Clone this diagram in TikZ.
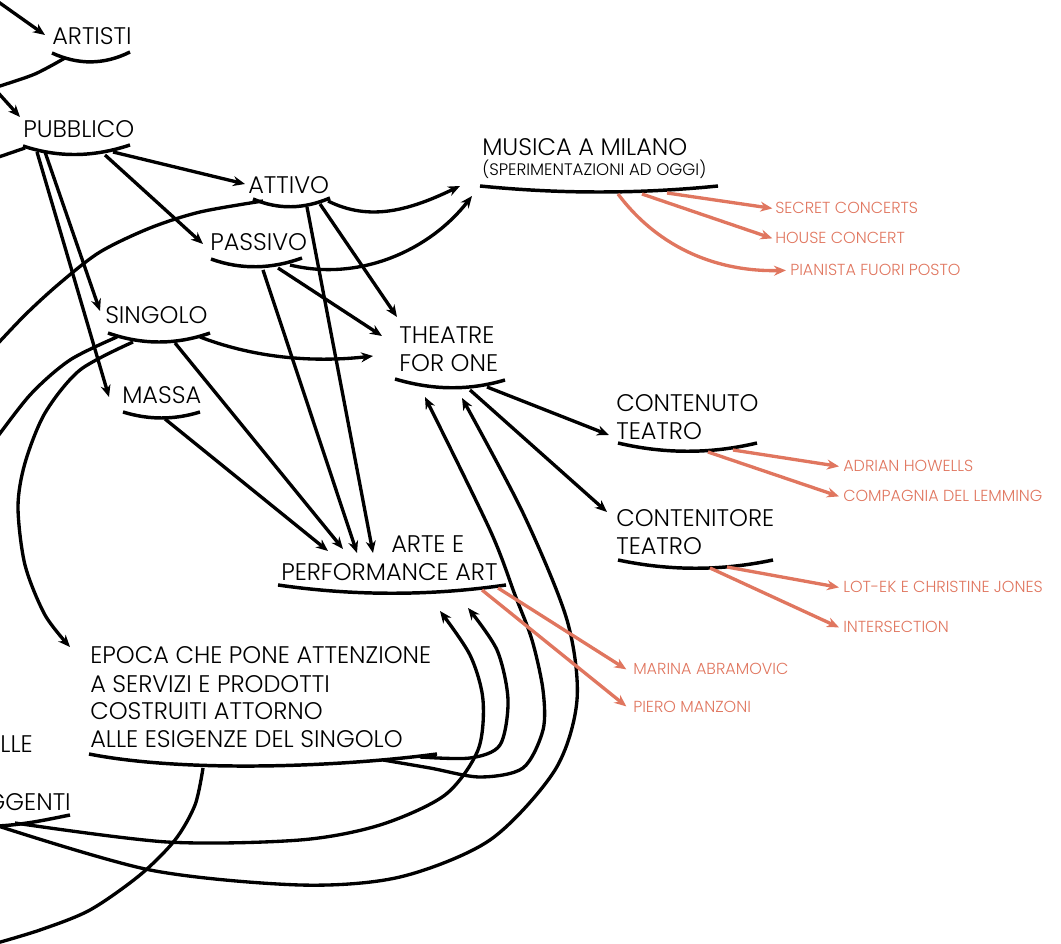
\documentclass[tikz,border=0pt]{standalone}
\usepackage{fontspec}
\setmainfont{Poppins Light}
\usepackage{xcolor}
\usetikzlibrary{
	arrows.meta,
	positioning,
	calc
}
\definecolor{salmon}{RGB}{224,118,95}

\begin{document}
\begin{tikzpicture}[x=0.75pt,y=-0.75pt,
	lab/.style={anchor=base west,inner sep=0pt,align=left,font=\fontsize{18}{21}\selectfont},
	leaf/.style={anchor=base west,inner sep=0pt,text=salmon,font=\fontsize{12}{14}\selectfont},
	uline/.style={line width=2.6pt},
	bare/.style={line width=2.5pt},
	link/.style={line width=2.5pt,-{Stealth[length=9pt,width=7.5pt]}},
	leaflink/.style={line width=2.5pt,salmon,-{Stealth[length=9pt,width=7.5pt]}}]
		
		\useasboundingbox (0,0) rectangle (1061,944);
		\clip (0,0) rectangle (1061,944);
		
		\node[lab] (artisti) at (52,45) {ARTISTI};
		\node[lab] (pubblico) at (23,138) {PUBBLICO};
		\node[lab] (attivo) at (248,194) {ATTIVO};
		\node[lab] (passivo) at (210,251) {PASSIVO};
		\node[lab] (singolo) at (105,324) {SINGOLO};
		\node[lab] (massa) at (122,404) {MASSA};
		\node[lab] (musica) at (482,176) {MUSICA A MILANO\\[-6pt]{\fontsize{12.5}{15}\selectfont (SPERIMENTAZIONI AD OGGI)}};
		\node[lab] (theatre) at (399,372) {THEATRE\\FOR ONE};
		\node[lab] (contenuto) at (616,440) {CONTENUTO\\TEATRO};
		\node[lab] (contenitore) at (616,555) {CONTENITORE\\TEATRO};
		\node[lab] (arte) at (281,581) {\hspace*{82.5pt}ARTE E\\PERFORMANCE ART};
		\node[lab] (epoca) at (90,748) {EPOCA CHE PONE ATTENZIONE\\A SERVIZI E PRODOTTI\\COSTRUITI ATTORNO\\ALLE ESIGENZE DEL SINGOLO};
		\node[lab,anchor=base east] (lle) at (33,753) {LLE};
		\node[lab,anchor=base east] (ggenti) at (71,810) {GGENTI};
		
		\node[leaf] (secret) at (775,214) {SECRET CONCERTS};
		\node[leaf] (house) at (775,244) {HOUSE CONCERT};
		\node[leaf] (pianista) at (790,276) {PIANISTA FUORI POSTO};
		\node[leaf] (howells) at (843,472) {ADRIAN HOWELLS};
		\node[leaf] (lemming) at (843,502) {COMPAGNIA DEL LEMMING};
		\node[leaf] (lotek) at (843,593) {LOT-EK E CHRISTINE JONES};
		\node[leaf] (intersection) at (843,633) {INTERSECTION};
		\node[leaf] (abramovic) at (633,675) {MARINA ABRAMOVIC};
		\node[leaf] (manzoni) at (633,712) {PIERO MANZONI};
		
		\draw[uline] (52,53) .. controls (78,65) and (104,65) .. (130,52);
		\draw[uline] (23,146) .. controls (59,158) and (94,157) .. (130,145);
		\draw[uline] (253,199) .. controls (279,210) and (304,209) .. (330,198);
		\draw[uline] (211,259) .. controls (241,270) and (272,269) .. (302,258);
		\draw[uline] (108,333) .. controls (142,345) and (176,345) .. (210,333);
		\draw[uline] (123,412) .. controls (149,420) and (174,420) .. (200,412);
		\draw[uline] (480,186) .. controls (560,194) and (638,194) .. (718,186);
		\draw[uline] (395,379) .. controls (432,390) and (468,391) .. (505,380);
		\draw[uline] (618,443) .. controls (664,454) and (711,454) .. (757,443);
		\draw[uline] (618,560) .. controls (670,571) and (721,571) .. (773,560);
		\draw[uline] (278,585) .. controls (354,596) and (430,596) .. (506,585);
		\draw[uline] (89,754) .. controls (180,772) and (330,768) .. (437,754);
		\draw[uline] (-30,826) .. controls (10,828) and (40,821) .. (70,815);
		
		\coordinate (artisti-from) at (-10,-4);
		\coordinate (pubblico-from) at (-8,86);
		\coordinate (left-a) at (-10,89);
		\coordinate (left-b) at (-10,160);
		\coordinate (left-c) at (-10,352);
		\coordinate (left-d) at (-10,447);
		\coordinate (left-e) at (-10,945);
		
		\coordinate (artisti-o) at (65,58);
		\coordinate (pubblico-o1) at (25,148);
		\coordinate (pubblico-o2) at (113,152);
		\coordinate (pubblico-o3) at (105,155);
		\coordinate (pubblico-o4) at (45,152);
		\coordinate (pubblico-o5) at (37,152);
		\coordinate (attivo-o1) at (263,201);
		\coordinate (attivo-o2) at (328,201);
		\coordinate (attivo-o3) at (320,204);
		\coordinate (attivo-o4) at (307,207);
		\coordinate (passivo-o1) at (290,265);
		\coordinate (passivo-o2) at (278,268);
		\coordinate (passivo-o3) at (263,270);
		\coordinate (singolo-o1) at (117,337);
		\coordinate (singolo-o2) at (133,342);
		\coordinate (singolo-o3) at (175,343);
		\coordinate (singolo-o4) at (200,337);
		\coordinate (massa-o) at (165,419);
		\coordinate (musica-o1) at (667,193);
		\coordinate (musica-o2) at (642,194);
		\coordinate (musica-o3) at (618,194);
		\coordinate (theatre-o1) at (487,387);
		\coordinate (theatre-o2) at (470,390);
		\coordinate (contenuto-o1) at (733,450);
		\coordinate (contenuto-o2) at (708,452);
		\coordinate (contenitore-o1) at (727,567);
		\coordinate (contenitore-o2) at (710,568);
		\coordinate (arte-o1) at (498,588);
		\coordinate (arte-o2) at (482,590);
		\coordinate (epoca-o1) at (383,760);
		\coordinate (epoca-o2) at (420,757);
		\coordinate (epoca-o3) at (203,768);
		\coordinate (ggenti-o1) at (15,823);
		\coordinate (ggenti-o2) at (-5,825);
		
		\coordinate (artisti-i) at (45,35);
		\coordinate (pubblico-i) at (20,117);
		\coordinate (attivo-i) at (245,184);
		\coordinate (passivo-i) at (203,244);
		\coordinate (singolo-i) at (100,311);
		\coordinate (massa-i) at (109,397);
		\coordinate (musica-i1) at (460,186);
		\coordinate (musica-i2) at (472,196);
		\coordinate (theatre-i1) at (397,317);
		\coordinate (theatre-i2) at (382,336);
		\coordinate (theatre-i3) at (373,356);
		\coordinate (theatre-i4) at (425,397);
		\coordinate (theatre-i5) at (462,398);
		\coordinate (arte-i1) at (328,551);
		\coordinate (arte-i2) at (343,549);
		\coordinate (arte-i3) at (357,553);
		\coordinate (arte-i4) at (373,553);
		\coordinate (arte-i5) at (440,611);
		\coordinate (arte-i6) at (468,608);
		\coordinate (contenuto-i) at (609,435);
		\coordinate (contenitore-i) at (607,512);
		\coordinate (epoca-i) at (70,647);
		
		\draw[link] (artisti-from) -- (artisti-i);
		\draw[bare] plot[smooth] coordinates {(artisti-o) (35,74) (0,86) (left-a)};
		\draw[link] (pubblico-from) -- (pubblico-i);
		\draw[bare] (pubblico-o1) -- (left-b);
		\draw[link] (pubblico-o2) -- (attivo-i);
		\draw[link] (pubblico-o3) -- (passivo-i);
		\draw[link] (pubblico-o4) -- (singolo-i);
		\draw[link] (pubblico-o5) -- (massa-i);
		
		\draw[bare] plot[smooth] coordinates {(attivo-o1) (200,212) (150,228) (100,252) (60,283) (25,315) (left-c)};
		\draw[link] (attivo-o2) .. controls (370,222) and (410,210) .. (musica-i1);
		\draw[link] (passivo-o1) .. controls (360,282) and (430,250) .. (musica-i2);
		\draw[link] (attivo-o3) -- (theatre-i1);
		\draw[link] (passivo-o2) -- (theatre-i2);
		\draw[link] (singolo-o4) .. controls (260,360) and (320,362) .. (theatre-i3);
		\draw[link] (attivo-o4) -- (arte-i4);
		\draw[link] (passivo-o3) -- (arte-i3);
		\draw[link] (singolo-o3) -- (arte-i2);
		\draw[link] (massa-o) -- (arte-i1);
		
		\draw[bare] plot[smooth] coordinates {(singolo-o1) (70,360) (30,395) (left-d)};
		\draw[link] plot[smooth] coordinates {(singolo-o2) (80,370) (45,413) (25,463) (18,507) (25,565) (45,615) (epoca-i)};
		
		\draw[link] (theatre-o1) -- (contenuto-i);
		\draw[link] (theatre-o2) -- (contenitore-i);
		
		\draw[link] plot[smooth] coordinates {(epoca-o1) (430,768) (480,777) (523,768) (543,730) (543,690) (532,640) (515,595) (490,530) (theatre-i4)};
		\draw[link] plot[smooth] coordinates {(epoca-o2) (470,758) (500,745) (508,700) (497,650) (arte-i6)};
		\draw[bare] plot[smooth] coordinates {(epoca-o3) (195,805) (175,840) (140,875) (90,910) (40,930) (left-e)};
		\draw[link] plot[smooth] coordinates {(ggenti-o1) (167,842) (300,840) (380,825) (445,795) (478,750) (483,700) (470,655) (arte-i5)};
		\draw[link] plot[smooth] coordinates {(ggenti-o2) (150,870) (300,885) (400,877) (490,840) (555,770) (577,700) (567,620) (523,513) (theatre-i5)};
		
		\draw[leaflink] (musica-o1) -- ([xshift=-2pt]secret.west);
		\draw[leaflink] (musica-o2) -- ([xshift=-2pt]house.west);
		\draw[leaflink] (musica-o3) .. controls (660,250) and (720,272) .. ([xshift=-3pt]pianista.west);
		\draw[leaflink] (contenuto-o1) -- ([xshift=-3pt]howells.west);
		\draw[leaflink] (contenuto-o2) -- ([xshift=-3pt]lemming.west);
		\draw[leaflink] (contenitore-o1) -- ([xshift=-3pt]lotek.west);
		\draw[leaflink] (contenitore-o2) -- ([xshift=-3pt]intersection.west);
		\draw[leaflink] (arte-o1) -- ([xshift=-5pt]abramovic.west);
		\draw[leaflink] (arte-o2) -- ([xshift=-5pt]manzoni.west);
		
	\end{tikzpicture}
\end{document}
